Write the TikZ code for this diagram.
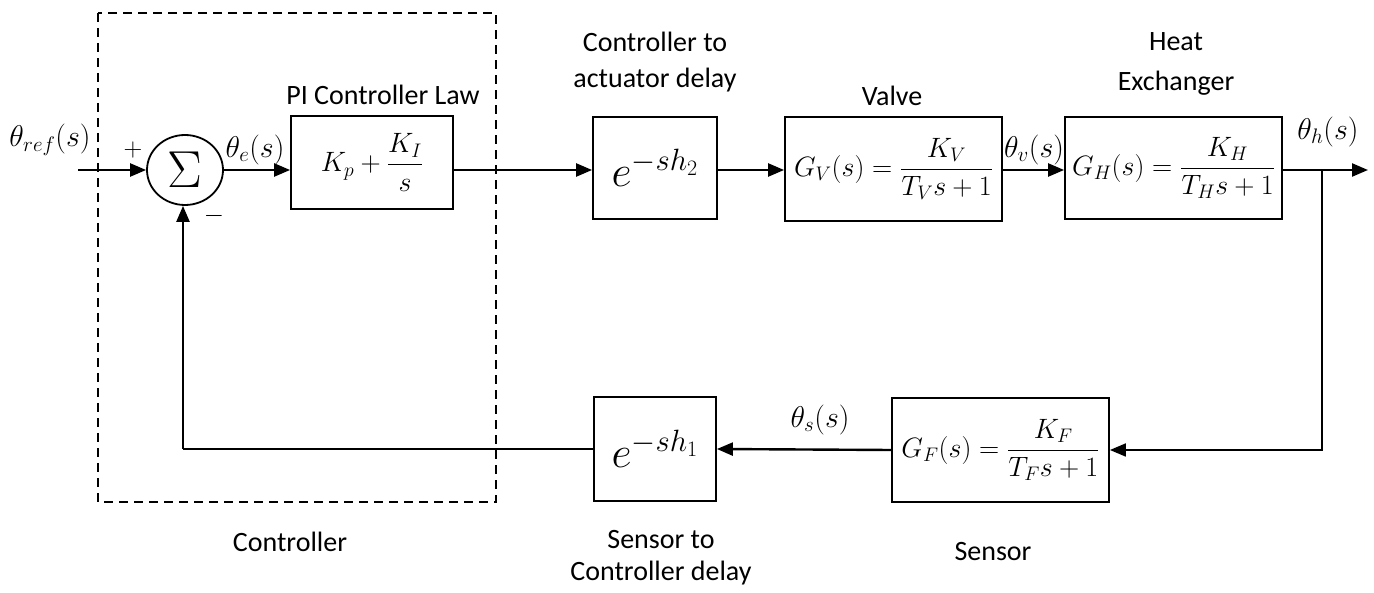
\RequirePackage{fix-cm}
\documentclass[tikz,border=0pt]{standalone}
\usepackage{amsmath}
\usepackage[no-math]{fontspec}
\setmainfont{Carlito}
\usetikzlibrary{arrows.meta,shapes.geometric}
\tikzset{
  blk/.style={draw,line width=1.8pt,rectangle,inner sep=0pt,font=\fontsize{28}{32}\selectfont},
  dly/.style={blk,font=\fontsize{44}{48}\selectfont},
  lbl/.style={font=\fontsize{28}{32}\selectfont,inner sep=0pt},
  sig/.style={font=\fontsize{30}{34}\selectfont,inner sep=0pt},
  conn/.style={line width=2.4pt,-{Triangle[length=16pt,width=13pt]}},
  thin/.style={line width=1.8pt}
}
\begin{document}
\begin{tikzpicture}[x=1pt,y=-1pt]
\useasboundingbox (0,0) rectangle (1374,593);
% controller dashed frame
\draw[line width=2.5pt,dash pattern=on 9pt off 6pt] (98,13) rectangle (496,502);
% blocks
\node[draw,line width=1.8pt,ellipse,minimum width=76pt,minimum height=70pt,inner sep=0pt,font=\fontsize{52}{56}\selectfont] (sum) at (185,170) {$\Sigma$};
\node[blk,minimum width=162pt,minimum height=93pt] (pi) at (372,162.5) {$K_p+\dfrac{K_I}{s}$};
\node[dly,minimum width=124pt,minimum height=102pt] (d2) at (655,168) {$e^{-sh_2}$};
\node[blk,minimum width=217pt,minimum height=104pt] (valve) at (893.5,169) {$G_V(s)=\dfrac{K_V}{T_V s+1}$};
\node[blk,minimum width=217pt,minimum height=102pt] (he) at (1173.5,168) {$G_H(s)=\dfrac{K_H}{T_H s+1}$};
\node[blk,minimum width=217pt,minimum height=104pt] (sensor) at (1000.5,450) {$G_F(s)=\dfrac{K_F}{T_F s+1}$};
\node[dly,minimum width=122pt,minimum height=104pt] (d1) at (655,449) {$e^{-sh_1}$};
% coordinates
\coordinate (in) at (78,170);
\coordinate (out) at (1368,170);
\coordinate (br) at (1322,170);
\coordinate (fb) at (183,449);
% connectors
\draw[conn] (in) -- (sum.west);
\draw[conn] (sum.east) -- (sum.east -| pi.west);
\draw[conn] (pi.east |- sum.east) -- (d2.west |- sum.east);
\draw[conn] (d2.east |- sum.east) -- (valve.west |- sum.east);
\draw[conn] (valve.east |- sum.east) -- (he.west |- sum.east);
\draw[conn] (he.east |- sum.east) -- (out);
\draw[thin,-{Triangle[length=16pt,width=13pt]}] (br) |- (sensor.east);
\draw[conn] (sensor.west) -- (d1.east);
\draw[thin] (d1.west) -- (fb);
\draw[conn] (fb) -- (fb |- sum.south);
% signal labels
\node[sig] (tref) at (50,140) {$\theta_{ref}(s)$};
\node[font=\fontsize{26}{30}\selectfont,inner sep=0pt] (plus) at (133,150) {$+$};
\node[font=\fontsize{26}{30}\selectfont,inner sep=0pt] (minus) at (214,216) {$-$};
\node[sig] (te) at (255,150) {$\theta_e(s)$};
\node[sig] (tv) at (1034,150) {$\theta_v(s)$};
\node[sig] (th) at (1328,132) {$\theta_h(s)$};
\node[sig] (ts) at (820,420) {$\theta_s(s)$};
% text labels
\node[lbl] (lpi) at (383,95) {PI Controller Law};
\node[lbl] (ld2a) at (655,42) {Controller to};
\node[lbl] (ld2b) at (655,80) {actuator delay};
\node[lbl] (lv) at (892,96) {Valve};
\node[lbl] (lha) at (1176,42) {Heat};
\node[lbl] (lhb) at (1176,83) {Exchanger};
\node[lbl] (lc) at (290,542) {Controller};
\node[lbl] (ld1a) at (661,540) {Sensor to};
\node[lbl] (ld1b) at (661,573) {Controller delay};
\node[lbl] (ls) at (993,552) {Sensor};
\end{tikzpicture}
\end{document}
